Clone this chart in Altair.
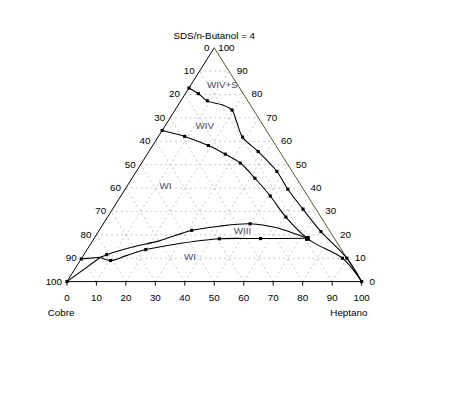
import altair as alt
import pandas as pd

# ---------------- data (ternary: Heptano %, SDS/n-Butanol %; Cobre = rest) ----------------
ticks = [0, 10, 20, 30, 40, 50, 60, 70, 80, 90, 100]
grid_levels = [10, 20, 30, 40, 50, 60, 70, 80, 90]

# WIV+S / WIV boundary
outer_h = [0.0, 4.4, 9.0, 14.9, 19.3, 23.3, 28.7, 37.1, 47.7, 55.2, 64.6, 75.5, 90.0, 100.0]
outer_s = [82.8, 80.4, 77.3, 75.6, 73.4, 68.5, 61.8, 55.6, 47.1, 39.5, 31.0, 21.4, 10.0, 0.0]
outer_m = [1, 1, 1, 0, 1, 0, 1, 1, 1, 1, 1, 1, 1, 1]

# WIV / WI boundary
inner_h = [0.0, 8.9, 18.9, 26.5, 33.5, 41.7, 50.7, 60.5, 72.3, 77.2, 88.5, 100.0]
inner_s = [64.6, 62.1, 58.2, 54.5, 50.7, 44.2, 36.6, 27.6, 18.5, 15.7, 10.0, 0.0]
inner_m = [1, 1, 1, 1, 1, 1, 1, 1, 2, 0, 1, 1]

# WIII upper boundary (curved part)
up_h = [6.2, 7.7, 14.9, 22.6, 31.4, 39.9, 49.8, 59.7, 67.8, 72.3]
up_s = [10.4, 11.5, 14.8, 17.4, 21.9, 23.7, 24.7, 23.0, 20.2, 18.5]
up_m = [0, 1, 0, 0, 1, 0, 1, 0, 0, 2]

# WIII lower boundary (curved part)
low_h = [6.2, 10.3, 14.6, 19.9, 28.8, 42.6, 56.5, 72.3]
low_s = [10.4, 9.0, 11.1, 13.7, 16.0, 18.3, 18.4, 18.5]
low_m = [0, 1, 0, 1, 0, 1, 1, 2]

# straight segments
seg_name = ["a", "a", "b", "b"]
seg_h = [0.0, 6.2, 0.0, 6.2]
seg_s = [9.7, 10.4, 0.0, 10.4]
seg_m = [1, 0, 1, 0]

region_names = ["WIV+S", "WIV", "WI", "WIII", "WI"]
region_h = [10.8, 13.6, 13.0, 48.8, 36.6]
region_s = [83.9, 66.4, 40.9, 21.6, 10.4]

title_top = "SDS/n-Butanol = 4"
title_left = "Cobre"
title_right = "Heptano"

# ---------------- helpers ----------------
def uv(h, s):
    return h + s / 2.0, s

rows = []
for name, H, S, M in [("outer", outer_h, outer_s, outer_m), ("inner", inner_h, inner_s, inner_m),
                      ("up", up_h, up_s, up_m), ("low", low_h, low_s, low_m)]:
    for i, (h, s, m) in enumerate(zip(H, S, M)):
        u, t = uv(h, s)
        rows.append({"series": name, "order": i, "u": u, "t": t, "m": m})
curves = pd.DataFrame(rows)

srows = []
for i, (n, h, s, m) in enumerate(zip(seg_name, seg_h, seg_s, seg_m)):
    u, t = uv(h, s)
    srows.append({"series": n, "order": i, "u": u, "t": t, "m": m})
segs = pd.DataFrame(srows)

markers = pd.concat([curves[curves.m > 0], segs[segs.m > 0]])
small = markers[markers.m == 1]
big = markers[markers.m == 2]

grows = []
for g in grid_levels:
    grows.append({"u": g / 2, "t": g, "u2": 100 - g / 2, "t2": g})
    grows.append({"u": g, "t": 0, "u2": g + (100 - g) / 2, "t2": 100 - g})
    grows.append({"u": 100 - g, "t": 0, "u2": (100 - g) / 2, "t2": 100 - g})
grid = pd.DataFrame(grows)

edges_dark = pd.DataFrame([{"u": 0, "t": 0, "u2": 100, "t2": 0}, {"u": 0, "t": 0, "u2": 50, "t2": 100}])
edges_right = pd.DataFrame([{"u": 100, "t": 0, "u2": 50, "t2": 100}])

tickmarks = pd.DataFrame([{"u": v, "t": 0, "u2": v, "t2": -1.7} for v in ticks])
bottom_lab = pd.DataFrame([{"u": v, "t": 0, "lab": str(v)} for v in ticks])
left_lab = pd.DataFrame([{"u": (100 - v) / 2, "t": 100 - v, "lab": str(v)} for v in ticks])
right_lab = pd.DataFrame([{"u": 100 - v / 2, "t": v, "lab": str(v)} for v in ticks if v < 100])
apex_lab = pd.DataFrame([{"u": 100 - v / 2, "t": v, "lab": str(v)} for v in ticks if v == 100])
regions = pd.DataFrame([{"u": h + s / 2, "t": s, "lab": n} for n, h, s in zip(region_names, region_h, region_s)])
titles = pd.DataFrame([{"u": 50, "t": 100, "lab": title_top}])

xs = alt.Scale(domain=[-20, 130.3333], nice=False, zero=False)
ys = alt.Scale(domain=[-47.899, 115.546], nice=False, zero=False)
X = alt.X("u:Q", scale=xs, axis=None)
Y = alt.Y("t:Q", scale=ys, axis=None)
FONT = "Liberation Sans"

grid_l = alt.Chart(grid).mark_rule(color="#c6c6c6", strokeDash=[2, 3], strokeWidth=1).encode(
    x=X, y=Y, x2="u2:Q", y2="t2:Q")
edge_l = alt.Chart(edges_dark).mark_rule(color="#000000", strokeWidth=1).encode(x=X, y=Y, x2="u2:Q", y2="t2:Q")
edge_r = alt.Chart(edges_right).mark_rule(color="#55552a", strokeWidth=1).encode(x=X, y=Y, x2="u2:Q", y2="t2:Q")
tick_l = alt.Chart(tickmarks).mark_rule(color="#000000", strokeWidth=1).encode(x=X, y=Y, x2="u2:Q", y2="t2:Q")

curve_l = alt.Chart(curves).mark_line(interpolate="catmull-rom", color="#000000", strokeWidth=1.1).encode(
    x=X, y=Y, detail="series:N", order="order:Q")
seg_l = alt.Chart(segs).mark_line(color="#000000", strokeWidth=1.1).encode(
    x=X, y=Y, detail="series:N", order="order:Q")
mk_small = alt.Chart(small).mark_square(color="#000000", size=10, opacity=1).encode(x=X, y=Y)
mk_big = alt.Chart(big).mark_square(color="#000000", size=20, opacity=1).encode(x=X, y=Y)

bl = alt.Chart(bottom_lab).mark_text(font=FONT, fontSize=10, dy=17, color="#000000").encode(x=X, y=Y, text="lab:N")
ll = alt.Chart(left_lab).mark_text(font=FONT, fontSize=10, align="right", dx=-5, color="#000000").encode(
    x=X, y=Y, text="lab:N")
rl = alt.Chart(right_lab).mark_text(font=FONT, fontSize=10, align="left", dx=8, color="#000000").encode(
    x=X, y=Y, text="lab:N")
al = alt.Chart(apex_lab).mark_text(font=FONT, fontSize=10, align="left", dx=4, color="#000000").encode(
    x=X, y=Y, text="lab:N")
rg = alt.Chart(regions).mark_text(font=FONT, fontSize=10, color="#4a4a66").encode(x=X, y=Y, text="lab:N")
tt = alt.Chart(titles).mark_text(font=FONT, fontSize=10, dy=-12, color="#000000").encode(x=X, y=Y, text="lab:N")
cl = alt.Chart(pd.DataFrame([{"u": 0, "t": 0, "lab": title_left}])).mark_text(
    font=FONT, fontSize=10, dx=-6, dy=32, color="#000000").encode(x=X, y=Y, text="lab:N")
hl = alt.Chart(pd.DataFrame([{"u": 100, "t": 0, "lab": title_right}])).mark_text(
    font=FONT, fontSize=10, dx=-13, dy=32, color="#000000").encode(x=X, y=Y, text="lab:N")

chart = alt.layer(grid_l, edge_l, edge_r, tick_l, curve_l, seg_l, mk_small, mk_big,
                  bl, ll, rl, al, rg, tt, cl, hl).properties(
    width=451, height=389, padding=0,
    autosize=alt.AutoSizeParams(type="none"),
    background="#ffffff",
).configure_view(stroke=None)

chart.save("out.html", embed_options={"renderer": "svg", "actions": False})
